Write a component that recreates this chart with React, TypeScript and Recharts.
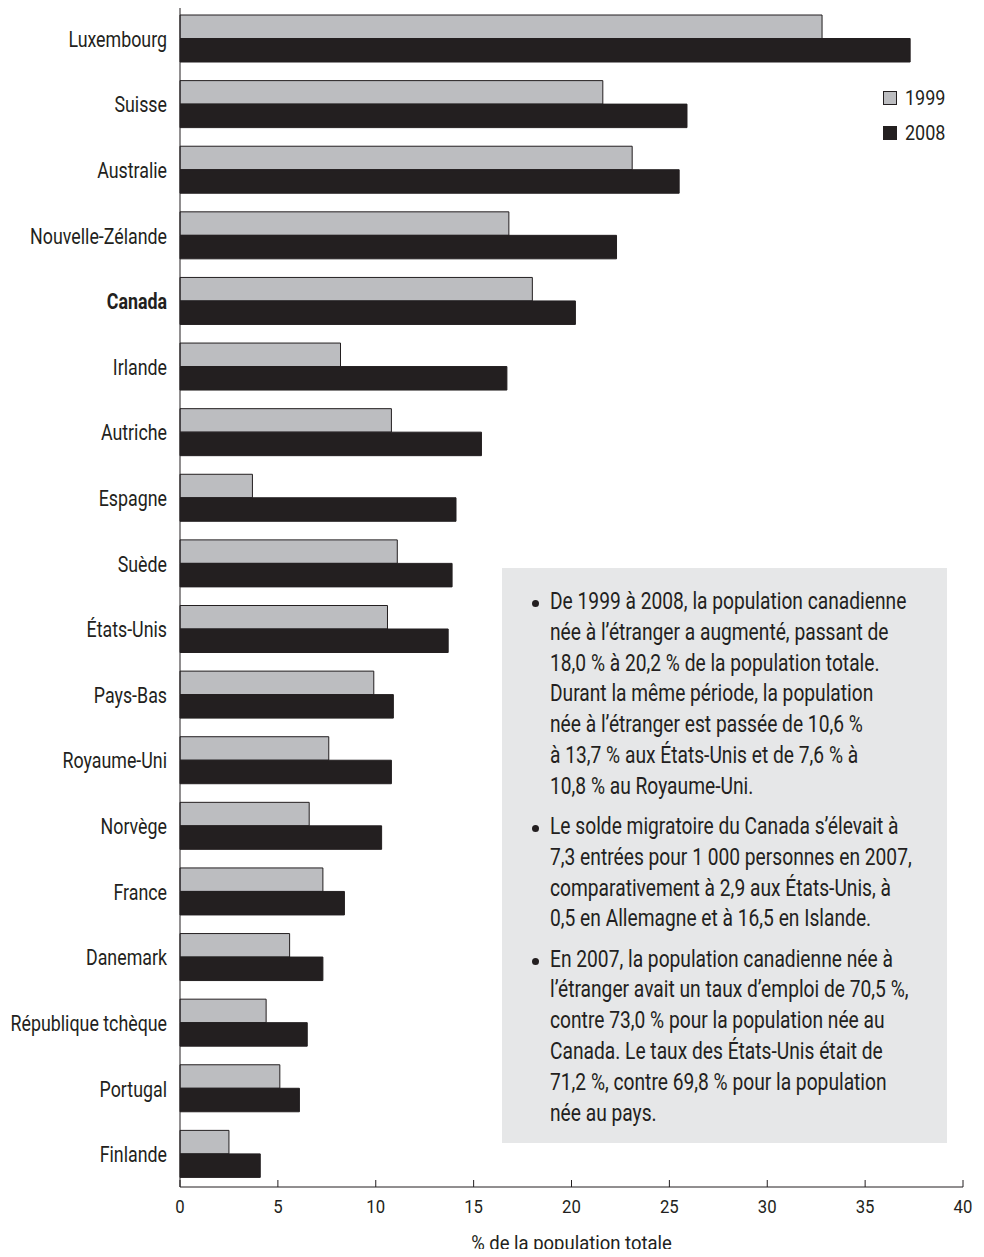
import { BarChart, Bar, XAxis, YAxis, Label } from "recharts";

const countries = [
  "Luxembourg",
  "Suisse",
  "Australie",
  "Nouvelle-Zélande",
  "Canada",
  "Irlande",
  "Autriche",
  "Espagne",
  "Suède",
  "États-Unis",
  "Pays-Bas",
  "Royaume-Uni",
  "Norvège",
  "France",
  "Danemark",
  "République tchèque",
  "Portugal",
  "Finlande",
];

const values1999 = [
  32.8, 21.6, 23.1, 16.8, 18.0, 8.2, 10.8, 3.7, 11.1, 10.6, 9.9, 7.6, 6.6, 7.3,
  5.6, 4.4, 5.1, 2.5,
];

const values2008 = [
  37.3, 25.9, 25.5, 22.3, 20.2, 16.7, 15.4, 14.1, 13.9, 13.7, 10.9, 10.8, 10.3,
  8.4, 7.3, 6.5, 6.1, 4.1,
];

const xTicks = [0, 5, 10, 15, 20, 25, 30, 35, 40];

const seriesLabels = ["1999", "2008"];

const notes = [
  [
    "De 1999 à 2008, la population canadienne",
    "née à l’étranger a augmenté, passant de",
    "18,0 % à 20,2 % de la population totale.",
    "Durant la même période, la population",
    "née à l’étranger est passée de 10,6 %",
    "à 13,7 % aux États-Unis et de 7,6 % à",
    "10,8 % au Royaume-Uni.",
  ],
  [
    "Le solde migratoire du Canada s’élevait à",
    "7,3 entrées pour 1 000 personnes en 2007,",
    "comparativement à 2,9 aux États-Unis, à",
    "0,5 en Allemagne et à 16,5 en Islande.",
  ],
  [
    "En 2007, la population canadienne née à",
    "l’étranger avait un taux d’emploi de 70,5 %,",
    "contre 73,0 % pour la population née au",
    "Canada. Le taux des États-Unis était de",
    "71,2 %, contre 69,8 % pour la population",
    "née au pays.",
  ],
];

const data = countries.map((name, i) => ({
  name,
  y1999: values1999[i],
  y2008: values2008[i],
}));

const FONT = "Roboto, 'Liberation Sans', sans-serif";
const INK = "#231f20";
const GREY = "#bcbdc0";
const BOX = "#e6e7e8";

// condensed look: Roboto squeezed horizontally
const CountryTick = (props: any) => {
  const { x, y, payload } = props;
  return (
    <text
      transform={`translate(${x - 5},${y}) scale(0.81,1)`}
      dy="0.36em"
      textAnchor="end"
      fontFamily={FONT}
      fontSize={22}
      fontWeight={payload.value === "Canada" ? 700 : 400}
      fill={INK}
    >
      {payload.value}
    </text>
  );
};

const ValueTick = (props: any) => {
  const { x, y, payload } = props;
  return (
    <text
      transform={`translate(${x},${y}) scale(0.88,1)`}
      textAnchor="middle"
      fontFamily={FONT}
      fontSize={19}
      fill={INK}
    >
      {payload.value}
    </text>
  );
};

const AxisTitle = (props: any) => {
  const { viewBox } = props;
  const cx = viewBox.x + viewBox.width / 2;
  return (
    <text
      transform={`translate(${cx},${viewBox.y + 63}) scale(0.88,1)`}
      textAnchor="middle"
      fontFamily={FONT}
      fontSize={21}
      fill={INK}
    >
      % de la population totale
    </text>
  );
};

export default function App() {
  return (
    <div style={{ position: "relative", width: 984, height: 1257, margin: -8 }}>
      <BarChart
        layout="vertical"
        width={984}
        height={1257}
        data={data}
        margin={{ top: 6, right: 21, bottom: 0, left: 0 }}
        barSize={23.5}
        barGap={0}
      >
        <XAxis
          type="number"
          domain={[0, 40]}
          ticks={xTicks}
          height={70}
          tickSize={-7}
          tickMargin={33}
          stroke={INK}
          tick={<ValueTick />}
        >
          <Label content={<AxisTitle />} />
        </XAxis>
        <YAxis
          type="category"
          dataKey="name"
          width={180}
          tickLine={false}
          stroke={INK}
          interval={0}
          tick={<CountryTick />}
        />
        <Bar
          dataKey="y1999"
          name={seriesLabels[0]}
          fill={GREY}
          stroke={INK}
          strokeWidth={1}
          isAnimationActive={false}
        />
        <Bar
          dataKey="y2008"
          name={seriesLabels[1]}
          fill={INK}
          stroke={INK}
          strokeWidth={1}
          isAnimationActive={false}
        />
      </BarChart>

      <div
        style={{
          position: "absolute",
          left: 883,
          top: 80,
          fontFamily: FONT,
          fontSize: 20,
          color: INK,
        }}
      >
        {seriesLabels.map((label, i) => (
          <div
            key={label}
            style={{ display: "flex", alignItems: "center", height: 35 }}
          >
            <span
              style={{
                width: 12,
                height: 12,
                background: i === 0 ? GREY : INK,
                border: `1px solid ${INK}`,
                marginRight: 8,
              }}
            />
            <span
              style={{
                display: "inline-block",
                transform: "scaleX(0.9)",
                transformOrigin: "left center",
              }}
            >
              {label}
            </span>
          </div>
        ))}
      </div>

      <div
        style={{
          position: "absolute",
          left: 502,
          top: 568,
          width: 445,
          height: 575,
          background: BOX,
          boxSizing: "border-box",
          paddingTop: 18,
          paddingLeft: 48,
          fontFamily: FONT,
          fontSize: 24,
          lineHeight: "30.8px",
          color: INK,
        }}
      >
        {notes.map((lines, i) => (
          <div key={i} style={{ position: "relative", marginBottom: 9.4 }}>
            <span
              style={{
                position: "absolute",
                left: -18,
                top: 14,
                width: 7,
                height: 7,
                borderRadius: "50%",
                background: INK,
              }}
            />
            {lines.map((line, j) => (
              <div
                key={j}
                style={{
                  whiteSpace: "nowrap",
                  transform: "scaleX(0.8)",
                  transformOrigin: "left center",
                }}
              >
                {line}
              </div>
            ))}
          </div>
        ))}
      </div>
    </div>
  );
}
